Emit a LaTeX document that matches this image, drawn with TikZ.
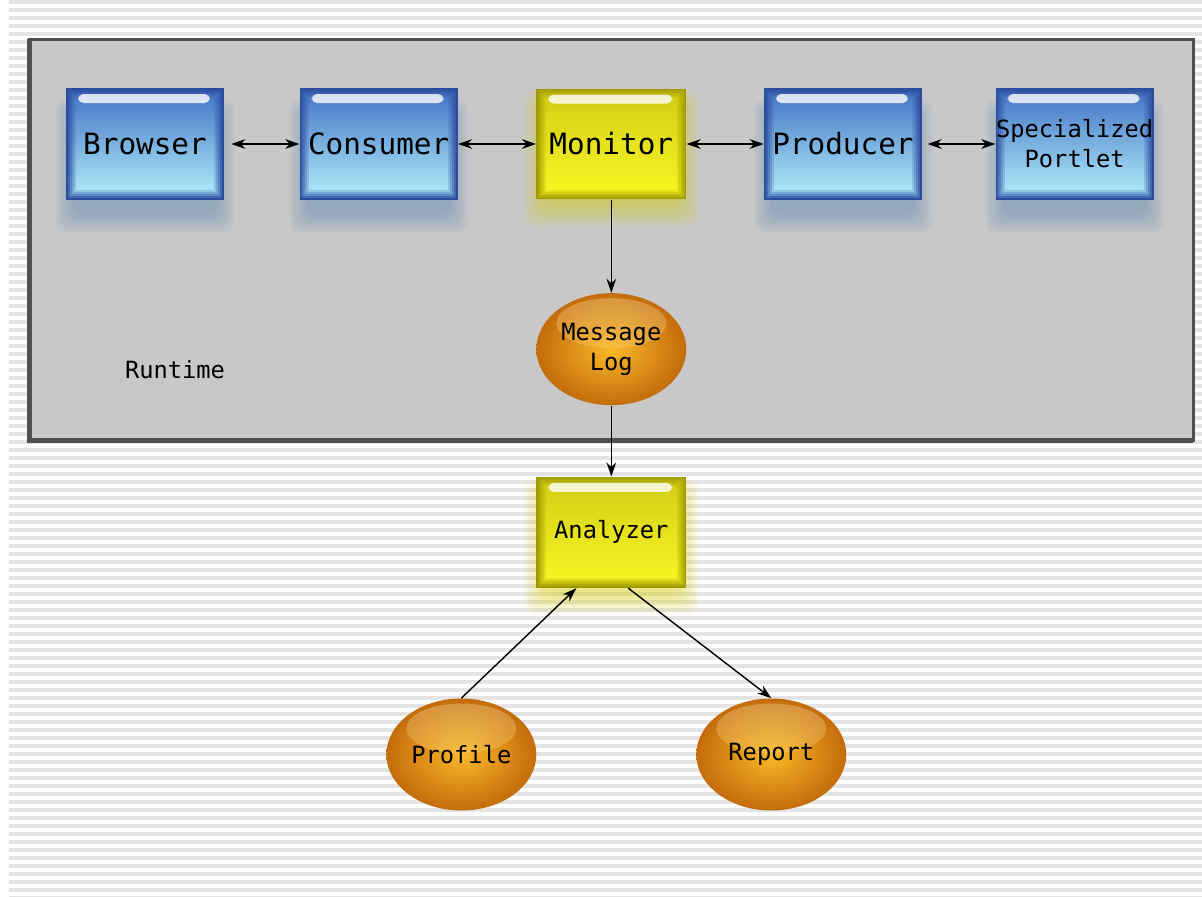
\documentclass[tikz,border=0pt]{standalone}
\usepackage{fontspec}
\newfontfamily\diagfont{DejaVu Sans Mono}
\usetikzlibrary{positioning,shapes.geometric,arrows.meta}

\definecolor{stripegray}{HTML}{E4E4E4}
\definecolor{panelgray}{HTML}{C8C8C8}
\definecolor{paneledge}{HTML}{4E4E4E}
\definecolor{blueedge}{HTML}{2B4C9E}
\definecolor{bluetop}{HTML}{4A7CC8}
\definecolor{bluebot}{HTML}{AAE6F8}
\definecolor{yellowedge}{HTML}{A09800}
\definecolor{yellowtop}{HTML}{D6D016}
\definecolor{yellowbot}{HTML}{F6F422}
\definecolor{orangerim}{HTML}{C46C0C}
\definecolor{orangecore}{HTML}{FAB828}
\definecolor{blueglow}{HTML}{5C88B4}
\definecolor{yellowglow}{HTML}{D8D000}

\pgfdeclarelayer{back}
\pgfdeclarelayer{glow}
\pgfsetlayers{back,glow,main}

% soft shadow under a node: node, colour, drop, spread (px)
\newcommand{\softglow}[4]{%
  \foreach \k in {0,...,7}
    \fill[#2, opacity=0.07, rounded corners=6pt]
      ([shift={(-#4+\k*#4/4, #3-#4+\k*#4/4)}]#1.north west) rectangle
      ([shift={(#4-\k*#4/4, #3+#4-\k*#4/4)}]#1.south east);
}

\tikzset{
  boxtext/.style={font=\diagfont\fontsize{16.7}{19}\selectfont},
  smalltext/.style={font=\diagfont\fontsize{13.5}{17}\selectfont},
  glossbox/.style n args={3}{rectangle, inner sep=0pt, align=center, fill=#1,
    path picture={
      \foreach \k [evaluate=\k as \p using int(\k*20)] in {1,...,5}
        \shade[top color=#2!\p!#1, bottom color=#3!\p!#1]
          ([shift={(\k*2,\k*2)}]path picture bounding box.north west) rectangle
          ([shift={(-\k*2,-\k*2)}]path picture bounding box.south east);
      \fill[white, opacity=0.8, rounded corners=3pt]
          ([shift={(12,6)}]path picture bounding box.north west) rectangle
          ([shift={(-14,15)}]path picture bounding box.north east);
    }},
  bluebox/.style={glossbox={blueedge}{bluetop}{bluebot},
    minimum width=3.16cm, minimum height=2.24cm, boxtext},
  yellowbox/.style={glossbox={yellowedge}{yellowtop}{yellowbot},
    minimum width=3cm, minimum height=2.22cm},
  bubble/.style={ellipse, inner sep=0pt, minimum width=3cm, minimum height=2.24cm,
    align=center, smalltext, inner color=orangecore, outer color=orangerim,
    path picture={
      \shade[top color=white!70!orangecore, bottom color=orangecore, opacity=0.3]
        ([shift={(0,-26)}]path picture bounding box.center) ellipse (1.1cm and 0.5cm);
    }},
  link/.style={line width=0.8pt, -{Stealth[length=8pt,width=5.5pt]}},
  biglink/.style={line width=0.8pt,
    {Stealth[length=8pt,width=5.5pt]}-{Stealth[length=8pt,width=5.5pt]}},
}

\begin{document}
\begin{tikzpicture}[x=0.02cm, y=-0.02cm]
  \useasboundingbox (0,0) rectangle (1202,896);

  % runtime row
  \node[bluebox] (browser) at (145,144) {Browser};
  \node[bluebox, right=1.5cm of browser] (consumer) {Consumer};
  \node[yellowbox, boxtext, right=1.56cm of consumer] (monitor) {Monitor};
  \node[bluebox, right=1.54cm of monitor] (producer) {Producer};
  \node[bluebox, smalltext, right=1.46cm of producer] (portlet) {Specialized\\Portlet};

  \node[bubble, below=1.86cm of monitor] (msglog) {Message\\Log};
  \node[smalltext] (runtime) at (175,370) {Runtime};

  % analysis
  \node[yellowbox, smalltext, below=1.42cm of msglog] (analyzer) {Analyzer};
  \node[bubble, below=2.2cm of analyzer, xshift=-3cm] (profile) {Profile};
  \node[bubble, below=2.2cm of analyzer, xshift=3.2cm] (report) {Report};

  \draw[biglink, shorten <=4pt] (browser) -- (consumer);
  \draw[biglink] (consumer) -- (monitor);
  \draw[biglink] (monitor) -- (producer);
  \draw[biglink, shorten <=3pt] (producer) -- (portlet);
  \draw[link] (monitor) -- (msglog);
  \draw[link] (msglog) -- (analyzer);
  \draw[link] (profile.north) -- ([xshift=-0.7cm]analyzer.south);
  \draw[link] ([xshift=0.34cm]analyzer.south) -- (report.north);

  \begin{pgfonlayer}{glow}
    \foreach \n in {browser,consumer,producer,portlet}
      \softglow{\n}{blueglow}{22}{10};
    \foreach \n in {monitor,analyzer}
      \softglow{\n}{yellowglow}{14}{12};
  \end{pgfonlayer}

  \begin{pgfonlayer}{back}
    \fill[white] (0,0) rectangle (1202,896);
    \foreach \y in {0,8,...,896}
      \fill[stripegray] (9,\y) rectangle (1202,\y+4);
    \filldraw[fill=panelgray, draw=paneledge, line width=0.06cm] (29,39) rectangle (1193,440);
    \draw[paneledge, line width=0.1cm] (29,39) -- (29,440) -- (1193,440);
  \end{pgfonlayer}
\end{tikzpicture}
\end{document}
